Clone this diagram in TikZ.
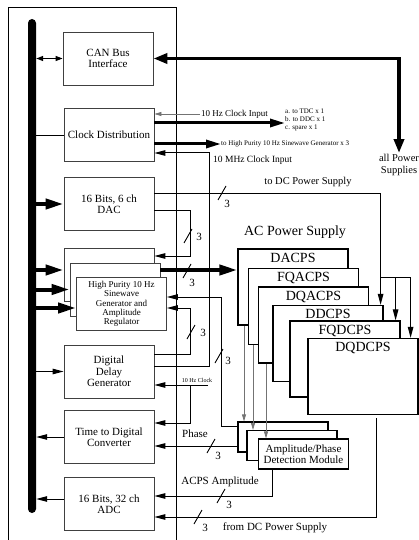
\documentclass[tikz,border=0pt]{standalone}
\usepackage{fontspec}
\setmainfont{Liberation Serif}
\usetikzlibrary{arrows.meta}

\begin{document}
\begin{tikzpicture}[
    x=1pt, y=-1pt,
    mybox/.style={draw=black!75, line width=0.8pt, fill=white, minimum width=90pt, minimum height=53pt, align=center, inner sep=1pt, font=\fontsize{11}{11.5}\selectfont},
    mysgbox/.style={mybox, font=\fontsize{9}{9.3}\selectfont},
    mypsbox/.style={draw, line width=1.2pt, fill=white, minimum width=110pt, minimum height=76pt, inner sep=0pt},
    mypslabel/.style={anchor=base, inner sep=0pt, font=\fontsize{14}{16}\selectfont},
    mydetbox/.style={draw, line width=1.2pt, fill=white, minimum width=90pt, minimum height=30pt, align=center, inner sep=1pt, font=\fontsize{11}{11.5}\selectfont},
    myedge/.style={-{Triangle[length=11pt, width=5.5pt]}, line width=1pt},
    mygray/.style={-{Triangle[length=7pt, width=4pt]}, draw=black!55, line width=0.7pt},
    mybig/.style={-{Triangle[length=18pt, width=10pt]}, line width=4pt},
    mythick/.style={-{Triangle[length=15pt, width=8pt]}, line width=3pt},
    mycan/.style={{Triangle[length=14pt, width=10pt]}-{Triangle[length=14pt, width=10pt]}, line width=3.5pt},
    mylabel/.style={inner sep=1pt, font=\fontsize{11}{12}\selectfont},
    mysmall/.style={inner sep=0pt, align=left, font=\fontsize{7}{8}\selectfont},
    mycount/.style={inner sep=0pt, font=\fontsize{11}{12}\selectfont}
]
    \useasboundingbox (0,0) rectangle (419,540);

    % control board and its bus
    \draw[line width=1pt] (8,8) rectangle (176,541);
    \node[fill=black, minimum width=8pt, minimum height=494pt, rounded corners=4pt, inner sep=0pt] (bus) at (32,266) {};

    \node[mybox] (can) at (108,58.5) {CAN Bus\\Interface};
    \node[mybox] (clk) at (109,135) {Clock Distribution};
    \node[mybox] (dac) at (109,204) {16 Bits, 6 ch\\DAC};
    \node[mybox] (sgA) at (109,275) {};
    \node[mybox] (sgB) at (115,289.5) {};
    \node[mysgbox] (sgC) at (121.5,304) {High Purity 10 Hz\\Sinewave\\Generator and\\Amplitude\\Regulator};
    \node[mybox] (ddg) at (109,371.5) {Digital\\Delay\\Generator};
    \node[mybox] (tdc) at (109,437) {Time to Digital\\Converter};
    \node[mybox] (adc) at (109,504) {16 Bits, 32 ch\\ADC};

    \draw[{Triangle[length=7pt, width=5pt]}-{Triangle[length=7pt, width=5pt]}, line width=1.2pt] (bus.east |- can.west) -- (can.west);
    \draw[line width=0.8pt] (bus.east |- clk.west) -- (clk.west);
    \draw[mybig] (bus.east |- dac.west) -- (dac.west);
    \draw[mybig] ([yshift=5pt]sgA.west -| bus.east) -- ([yshift=5pt]sgA.west);
    \draw[mybig] (bus.east |- sgB.west) -- (sgB.west);
    \draw[mybig] ([yshift=-4pt]sgC.west -| bus.east) -- ([yshift=-4pt]sgC.west);
    \draw[myedge] (bus.east |- ddg.west) -- (ddg.west);
    \draw[myedge] (tdc.west) -- (bus.east |- tdc.west);
    \draw[myedge] ([yshift=5pt]adc.west) -- ([yshift=5pt]adc.west -| bus.east);

    % AC power supplies
    \node[mylabel, font=\fontsize{14}{16}\selectfont] (aclabel) at (295,232) {AC Power Supply};
    \node[mypsbox] (dacps) at (293,287) {};
    \node[mypslabel] (dacpst) at ([yshift=-14pt]dacps.north) {DACPS};
    \node[mypsbox] (fqacps) at (303.5,306.5) {};
    \node[mypslabel] (fqacpst) at ([yshift=-14pt]fqacps.north) {FQACPS};
    \node[mypsbox] (dqacps) at (313.5,325) {};
    \node[mypslabel] (dqacpst) at ([yshift=-14pt]dqacps.north) {DQACPS};
    \node[mypsbox] (ddcps) at (328,343.5) {};
    \node[mypslabel] (ddcpst) at ([yshift=-14pt]ddcps.north) {DDCPS};
    \node[mypsbox] (fqdcps) at (345,359) {};
    \node[mypslabel] (fqdcpst) at ([yshift=-14pt]fqdcps.north) {FQDCPS};
    \node[mypsbox] (dqdcps) at (363,376.5) {};
    \node[mypslabel] (dqdcpst) at ([yshift=-14pt]dqdcps.north) {DQDCPS};

    % amplitude/phase detection
    \node[mydetbox] (apdA) at (283,437) {};
    \node[mydetbox] (apdB) at (292,445.5) {};
    \node[mydetbox] (apdC) at (303.5,454) {Amplitude/Phase\\Detection Module};
    \draw[mygray] ([xshift=-49pt]dacps.south) -- ([xshift=-49pt]dacps.south |- apdA.north);
    \draw[mygray] ([xshift=-50.5pt]fqacps.south) -- ([xshift=-50.5pt]fqacps.south |- apdB.north);
    \draw[mygray] ([xshift=-47.5pt]dqacps.south) -- ([xshift=-47.5pt]dqacps.south |- apdC.north);

    % CAN bus to all supplies
    \node[mylabel, align=center, font=\fontsize{10.5}{12}\selectfont] (allps) at (399,165) {all Power\\Supplies};
    \draw[mycan] (can.east) -| (allps.north);

    % clocks
    \node[mylabel, anchor=west, font=\fontsize{9}{10}\selectfont] (hzin) at (200,114) {10 Hz Clock Input};
    \draw[mygray] (hzin.west) -- (hzin.west -| clk.east);
    \node[mysmall, anchor=west] (clkout) at (285,120) {a. to TDC x 1\\b. to DDC x 1\\c. spare x 1};
    \draw[mythick] ([yshift=-3pt]clkout.west -| clk.east) -- ([yshift=-3pt]clkout.west);
    \node[mysmall, anchor=west] (sgout) at (221,144) {to High Purity 10 Hz Sinewave Generator x 3};
    \draw[mythick] (sgout.west -| clk.east) -- (sgout.west);
    \coordinate (mhz) at (209,153);
    \draw[myedge] ([yshift=5.5pt]ddg.east) -| (mhz) -- (mhz -| clk.east);
    \node[mylabel, anchor=west, font=\fontsize{9.5}{10}\selectfont] (mhzin) at (212,160) {10 MHz Clock Input};

    % DC power supply
    \node[mylabel, font=\fontsize{10.5}{12}\selectfont] (todc) at (308,182) {to DC Power Supply};
    \draw[myedge] ([yshift=11pt]dac.east) -| ([xshift=-3pt]ddcps.north east);
    \coordinate (dcsplit) at (380,277);
    \coordinate (dcsplitB) at (395,277);
    \draw[myedge] (dcsplit) -| ([xshift=-5pt]fqdcps.north east);
    \draw[myedge] (dcsplitB) -| ([xshift=-8pt]dqdcps.north east);

    % DAC and generator loops
    \coordinate (dacloop) at (190,256);
    \draw[myedge] ([yshift=-6pt]dac.east) -| (dacloop) -- (dacloop -| sgA.east);
    \draw[mybig] ([yshift=19.5pt]sgB.east) -- ([yshift=19.5pt]sgB.east -| dacps.west);
    \coordinate (ddgloop) at (190,308);
    \draw[myedge] ([yshift=17.5pt]ddg.east) -| (ddgloop) -- (ddgloop -| sgC.east);
    \coordinate (fbk) at (221,297);
    \draw[myedge] ([yshift=11pt]apdA.west) -| (fbk) -- (fbk -| sgC.east);

    % 10 Hz clock to delay generator and TDC
    \node[mysmall, font=\fontsize{6}{7}\selectfont] (hzclk) at (197,380) {10 Hz Clock};
    \coordinate (hzsrc) at (208,385);
    \coordinate (hzsplit) at (190,385);
    \draw[myedge] (hzsrc) -- (hzsrc -| ddg.east);
    \draw[myedge] (hzsplit) |- ([yshift=14pt]tdc.east);

    % measurements back to the board
    \draw[myedge] ([yshift=-9pt]apdA.west) -- ([yshift=-9pt]apdA.west -| tdc.east);
    \node[mylabel] (phase) at (195,434) {Phase};
    \draw[myedge] ([xshift=-31.5pt]apdC.south) |- ([yshift=8pt]adc.east);
    \node[mylabel] (acamp) at (220,482) {ACPS Amplitude};
    \draw[myedge] ([xshift=13pt,yshift=-3pt]dqdcps.south) |- ([yshift=-13pt]adc.east);
    \node[mylabel] (fromdc) at (275,528) {from DC Power Supply};

    % bundle marks
    \foreach \sx/\sy/\tx/\ty [count=\i] in {222/193/227/204, 188/236/199/237, 187/271/192/283, 191/332/203/333, 219/356/228/361, 211/446/218/456, 221/496/229/505, 198/517/205/528}{
        \draw[line width=0.9pt] (\sx-4,\sy+7) -- (\sx+4,\sy-7);
        \node[mycount] (cnt\i) at (\tx,\ty) {3};
    }
\end{tikzpicture}
\end{document}
